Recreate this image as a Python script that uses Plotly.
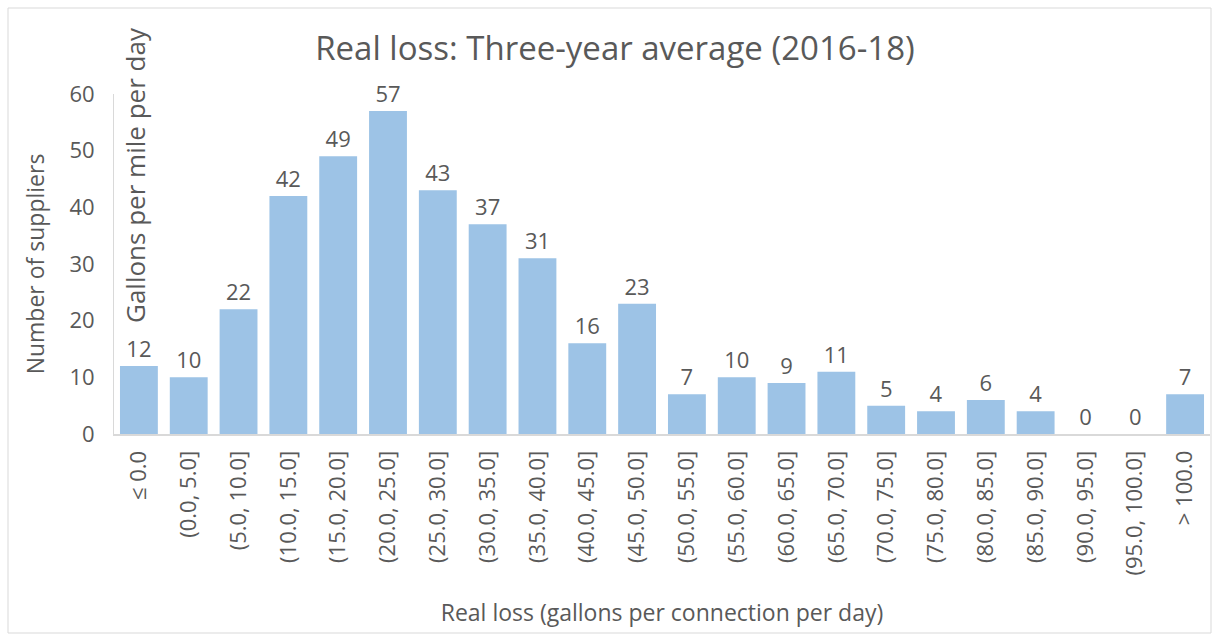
import plotly.graph_objects as go

categories = ["≤ 0.0", "(0.0, 5.0]", "(5.0, 10.0]", "(10.0, 15.0]", "(15.0, 20.0]",
              "(20.0, 25.0]", "(25.0, 30.0]", "(30.0, 35.0]", "(35.0, 40.0]", "(40.0, 45.0]",
              "(45.0, 50.0]", "(50.0, 55.0]", "(55.0, 60.0]", "(60.0, 65.0]", "(65.0, 70.0]",
              "(70.0, 75.0]", "(75.0, 80.0]", "(80.0, 85.0]", "(85.0, 90.0]", "(90.0, 95.0]",
              "(95.0, 100.0]", "> 100.0"]
suppliers = [12, 10, 22, 42, 49, 57, 43, 37, 31, 16, 23, 7, 10, 9, 11, 5, 4, 6, 4, 0, 0, 7]
y_ticks = [0, 10, 20, 30, 40, 50, 60]

FONT = "Open Sans"
GREY = "#595959"

fig = go.Figure(go.Bar(
    x=categories, y=suppliers,
    marker=dict(color="#9DC3E6", line=dict(width=0)),
    text=[str(v) for v in suppliers], textposition="outside",
    textfont=dict(size=22, color=GREY, family=FONT),
    cliponaxis=False,
))

L, R, T, B = 114, 4, 94, 202
W, H = 1214, 636
pw, ph = W - L - R, H - T - B

def px(x):
    return (x - L) / pw

def py(y):
    return (H - B - y) / ph

fig.update_layout(
    width=W, height=H,
    margin=dict(l=L, r=R, t=T, b=B),
    paper_bgcolor="white", plot_bgcolor="white",
    bargap=0.24,
    showlegend=False,
    font=dict(family=FONT, color=GREY),
    title=dict(text="Real loss: Three-year average (2016-18)",
               x=px(615), xref="paper", xanchor="center",
               y=1 - 48 / H, yanchor="middle",
               font=dict(size=33, color=GREY, family=FONT)),
    xaxis=dict(
        tickangle=-90, tickfont=dict(size=22, color=GREY, family=FONT),
        showline=True, linecolor="#D9D9D9", linewidth=2,
        showgrid=False, ticks="", ticklabelstandoff=6,
        title=dict(text="Real loss (gallons per connection per day)",
                   font=dict(size=23, color=GREY, family=FONT), standoff=30),
    ),
    yaxis=dict(
        range=[0, 60], tickvals=y_ticks,
        tickfont=dict(size=22, color=GREY, family=FONT),
        showline=True, linecolor="#D9D9D9", linewidth=1,
        showgrid=False, zeroline=False, ticks="", ticklabelstandoff=14,
        title=dict(text="Number of suppliers",
                   font=dict(size=23, color=GREY, family=FONT), standoff=18),
    ),
    annotations=[
        dict(text="Gallons per mile per day", textangle=-90,
             xref="paper", yref="paper", x=px(135), y=py(175),
             xanchor="center", yanchor="middle", showarrow=False,
             font=dict(size=26, color=GREY, family=FONT)),
    ],
    shapes=[
        dict(type="rect", xref="paper", yref="paper",
             x0=px(8), x1=px(1211), y0=py(633), y1=py(8),
             line=dict(color="#D9D9D9", width=1), fillcolor="rgba(0,0,0,0)",
             layer="below"),
    ],
)

fig.write_html("out.html",
               config={"displayModeBar": False},
               post_script="document.body.style.margin='0';document.body.style.padding='0';document.body.style.overflow='hidden';")
